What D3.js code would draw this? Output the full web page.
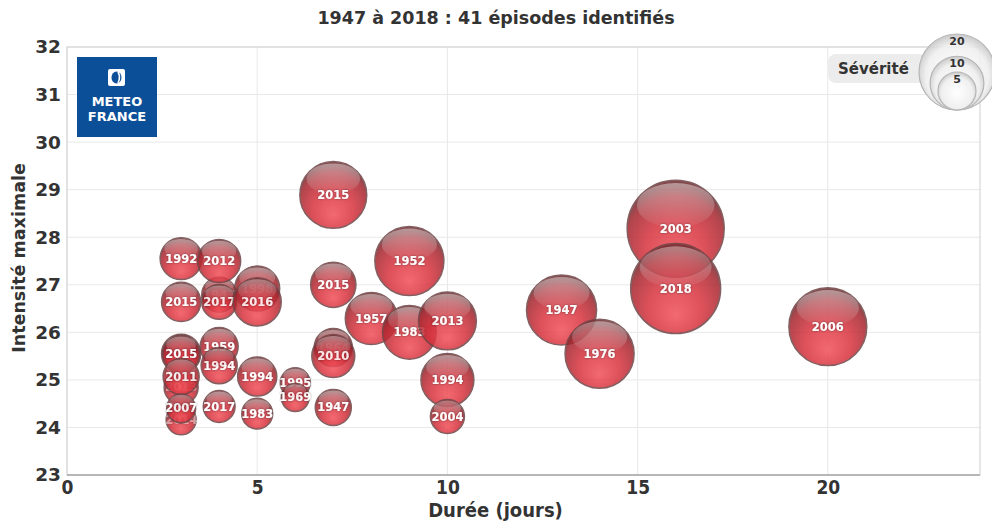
<!DOCTYPE html>
<html>
<head>
<meta charset="utf-8">
<script src="https://cdn.jsdelivr.net/npm/d3@7"></script>
<style>
  body { margin: 0; background: #fff; }
  svg { display: block; font-family: "DejaVu Sans", sans-serif; }
  .lbl { font-weight: bold; font-size: 11.5px; fill: #fff; text-anchor: middle; }
</style>
</head>
<body>
<svg id="chart"></svg>
<script>
// episodes (drawn in this order, the ones partly hidden first)
let years      = ['1947', '2013', '2014', '1964', '1998', '2015', '1992', '2012', '2015', '2017', '2016', '2015', '1957', '1983', '2013',
                  '2015', '1959', '1994', '2011', '2007', '2017', '1994', '1983', '1995', '1969', '2010', '1947', '1994', '2004',
                  '2015', '1952', '1947', '1976', '2006', '2003', '2018']
let durations  = [4, 3, 3, 7, 5, 3, 3, 4, 7, 4, 5, 3, 8, 9, 10,
                  3, 4, 4, 3, 3, 4, 5, 5, 6, 6, 7, 7, 10, 10,
                  7, 9, 13, 14, 20, 16, 16]
let intensities = [26.79, 24.84, 24.16, 25.68, 26.92, 26.64, 27.55, 27.5, 27.0, 26.64, 26.64, 25.55, 26.29, 26.0, 26.24,
                  25.55, 25.7, 25.3, 25.07, 24.4, 24.44, 25.07, 24.29, 24.94, 24.63, 25.5, 24.42, 25.0, 24.23,
                  28.89, 27.5, 26.47, 25.55, 26.12, 28.18, 26.92]
let severities = [4.2, 4, 3.1, 5, 7, 5.3, 6.1, 6.4, 7.1, 4.2, 8, 5.3, 9.4, 10, 11.6,
                  4.7, 5, 4.5, 4.5, 2.9, 3.5, 5.3, 3.3, 3.1, 2.7, 6.4, 4.5, 9.7, 4,
                  15.5, 16.5, 17, 16.5, 21, 32.6, 28]
let hiddenCount = 5

let xTicks = [0, 5, 10, 15, 20]
let yTicks = [23, 24, 25, 26, 27, 28, 29, 30, 31, 32]
let legendSizes = [20, 10, 5]

let width = 992
let height = 522
let plotLeft = 67, plotRight = 980, plotTop = 47, plotBottom = 475

let svg = d3.select('#chart').attr('width', width).attr('height', height)

let xScale = d3.scaleLinear().domain([0, 24]).range([plotLeft, plotRight])
let yScale = d3.scaleLinear().domain([23, 32]).range([plotBottom, plotTop])
let rScale = d3.scaleSqrt().domain([0, 20]).range([0, 38])

let defs = svg.append('defs')
let rg = defs.append('radialGradient').attr('id', 'redBall')
  .attr('cx', '50%').attr('cy', '65%').attr('r', '60%').attr('fx', '50%').attr('fy', '80%')
rg.append('stop').attr('offset', '0%').attr('stop-color', '#f25058')
rg.append('stop').attr('offset', '50%').attr('stop-color', '#d8333e')
rg.append('stop').attr('offset', '85%').attr('stop-color', '#a8262f')
rg.append('stop').attr('offset', '100%').attr('stop-color', '#6e2a2e')

let hl = defs.append('linearGradient').attr('id', 'shine').attr('x1', 0).attr('y1', 0).attr('x2', 0).attr('y2', 1)
hl.append('stop').attr('offset', '0%').attr('stop-color', '#e8e0e0').attr('stop-opacity', 0.5)
hl.append('stop').attr('offset', '100%').attr('stop-color', '#e8e0e0').attr('stop-opacity', 0.03)

let gg = defs.append('radialGradient').attr('id', 'greyBall')
  .attr('cx', '50%').attr('cy', '55%').attr('r', '55%')
gg.append('stop').attr('offset', '0%').attr('stop-color', '#ffffff')
gg.append('stop').attr('offset', '75%').attr('stop-color', '#efefef')
gg.append('stop').attr('offset', '100%').attr('stop-color', '#c4c4c4')

let shadow = defs.append('filter').attr('id', 'txtShadow')
shadow.append('feDropShadow').attr('dx', 0).attr('dy', 0).attr('stdDeviation', 1)
  .attr('flood-color', '#000').attr('flood-opacity', 0.6)

// grid
svg.append('g').selectAll('line').data(yTicks).enter().append('line')
  .attr('x1', plotLeft).attr('x2', plotRight)
  .attr('y1', d => yScale(d)).attr('y2', d => yScale(d))
  .attr('stroke', '#e8e8e8')
svg.append('g').selectAll('line').data(xTicks).enter().append('line')
  .attr('y1', plotTop).attr('y2', plotBottom)
  .attr('x1', d => xScale(d)).attr('x2', d => xScale(d))
  .attr('stroke', '#e8e8e8')

svg.append('rect').attr('x', plotLeft).attr('y', plotTop)
  .attr('width', plotRight - plotLeft).attr('height', plotBottom - plotTop)
  .attr('fill', 'none').attr('stroke', '#cfcfcf')
svg.append('line').attr('x1', plotLeft).attr('x2', plotRight).attr('y1', plotBottom).attr('y2', plotBottom)
  .attr('stroke', '#a8a8a8').attr('stroke-width', 1.5)

// axes
let xAxis = d3.axisBottom(xScale).tickValues(xTicks).tickSize(0).tickPadding(6)
let gx = svg.append('g').attr('transform', 'translate(0,' + plotBottom + ')').call(xAxis)
gx.select('.domain').remove()
gx.selectAll('text').attr('font-family', '"DejaVu Sans Condensed", "DejaVu Sans", sans-serif')
  .attr('font-weight', 'bold').attr('font-size', 19).attr('fill', '#333')

let yAxis = d3.axisLeft(yScale).tickValues(yTicks).tickSize(0).tickPadding(6)
let gy = svg.append('g').attr('transform', 'translate(' + plotLeft + ',0)').call(yAxis)
gy.select('.domain').remove()
gy.selectAll('text').attr('font-family', '"DejaVu Sans", sans-serif')
  .attr('font-weight', 'bold').attr('font-size', 18.5).attr('fill', '#333')

svg.append('text').attr('x', (plotLeft + plotRight) / 2 - 28).attr('y', 517)
  .attr('text-anchor', 'middle').attr('font-family', '"DejaVu Sans Condensed", "DejaVu Sans", sans-serif')
  .attr('font-weight', 'bold').attr('font-size', 20).attr('fill', '#333')
  .text('Durée (jours)')

svg.append('text').attr('transform', 'translate(25,' + ((plotTop + plotBottom) / 2 - 3) + ') rotate(-90)')
  .attr('text-anchor', 'middle').attr('font-weight', 'bold').attr('font-size', 17.5).attr('fill', '#333')
  .text('Intensité maximale')

svg.append('text').attr('x', 496).attr('y', 24)
  .attr('text-anchor', 'middle').attr('font-weight', 'bold').attr('font-size', 17.5).attr('fill', '#333')
  .text('1947 à 2018 : 41 épisodes identifiés')

// logo
let logo = svg.append('g')
logo.append('rect').attr('x', 77).attr('y', 57).attr('width', 80).attr('height', 80).attr('fill', '#0b4f98')
logo.append('rect').attr('x', 108).attr('y', 69).attr('width', 17).attr('height', 17).attr('rx', 2).attr('fill', '#fff')
logo.append('ellipse').attr('cx', 116.5).attr('cy', 77.5).attr('rx', 5).attr('ry', 6).attr('fill', '#0b4f98')
logo.append('path').attr('d', 'M118,72 q3,5 0,11').attr('stroke', '#fff').attr('stroke-width', 1.6).attr('fill', 'none')
logo.append('text').attr('x', 117).attr('y', 106).attr('text-anchor', 'middle')
  .attr('font-weight', 'bold').attr('font-size', 13).attr('fill', '#fff').text('METEO')
logo.append('text').attr('x', 117).attr('y', 121).attr('text-anchor', 'middle')
  .attr('font-weight', 'bold').attr('font-size', 13).attr('fill', '#fff').text('FRANCE')

// bubbles
let points = years.map((y, i) => ({ year: y, x: durations[i], y: intensities[i], s: severities[i], hidden: i < hiddenCount }))

let bubbles = svg.append('g').selectAll('g').data(points).enter().append('g')
  .attr('transform', d => 'translate(' + xScale(d.x) + ',' + yScale(d.y) + ')')
  .attr('opacity', 0.85)

bubbles.append('circle')
  .attr('r', d => rScale(d.s))
  .attr('fill', 'url(#redBall)')
  .attr('stroke', '#6e4446').attr('stroke-width', 1.5)

bubbles.append('ellipse')
  .attr('cx', 0)
  .attr('cy', d => -rScale(d.s) * 0.48)
  .attr('rx', d => rScale(d.s) * 0.8)
  .attr('ry', d => rScale(d.s) * 0.46)
  .attr('fill', 'url(#shine)')

bubbles.append('text').attr('class', 'lbl')
  .attr('y', 4)
  .attr('filter', 'url(#txtShadow)')
  .attr('opacity', d => d.hidden ? 0.45 : 1)
  .text(d => d.year)

// legend
let lg = svg.append('g')
lg.append('rect').attr('x', 828).attr('y', 54).attr('width', 100).attr('height', 29).attr('rx', 8)
  .attr('fill', '#ececec')
lg.append('text').attr('x', 838).attr('y', 74).attr('font-weight', 'bold').attr('font-size', 15).attr('fill', '#333')
  .text('Sévérité')
let legendBase = 110, legendX = 957
lg.selectAll('circle').data(legendSizes).enter().append('circle')
  .attr('cx', legendX)
  .attr('cy', d => legendBase - rScale(d))
  .attr('r', d => rScale(d))
  .attr('fill', 'url(#greyBall)').attr('fill-opacity', 0.9)
  .attr('stroke', '#b5b5b5').attr('stroke-width', 1.2)
lg.selectAll('text.ll').data(legendSizes).enter().append('text').attr('class', 'll')
  .attr('x', legendX)
  .attr('y', d => legendBase - 2 * rScale(d) + 11)
  .attr('text-anchor', 'middle').attr('font-weight', 'bold').attr('font-size', 11).attr('fill', '#333')
  .text(d => d)
</script>
</body>
</html>
